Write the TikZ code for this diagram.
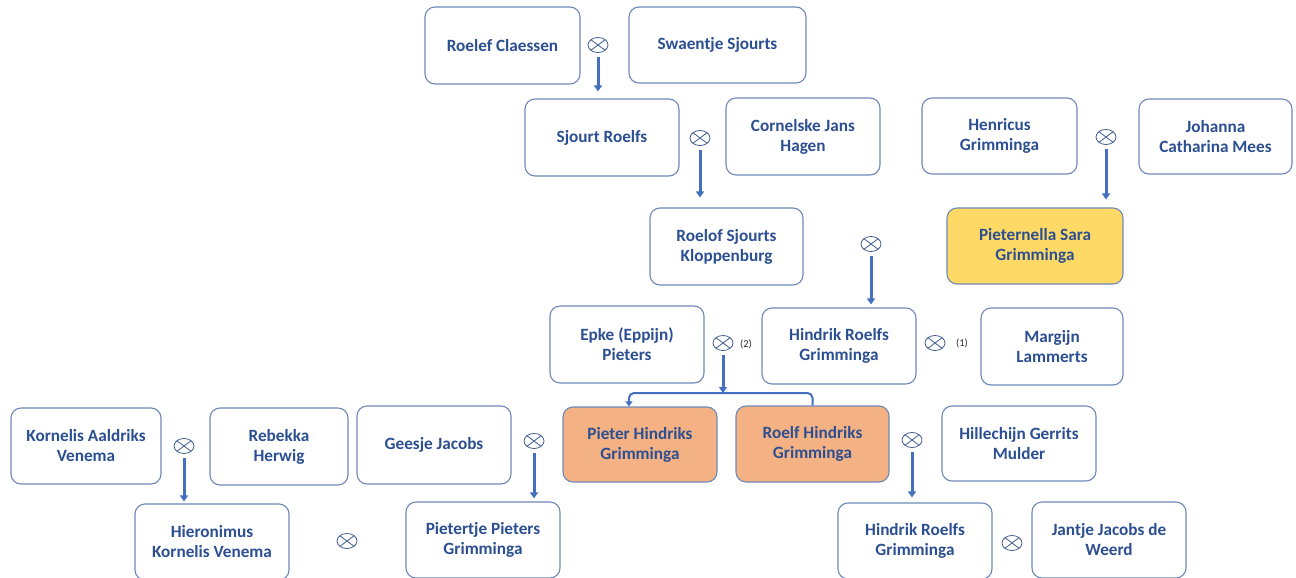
\documentclass[tikz,border=0pt]{standalone}
\usepackage{fontspec}
\setmainfont{Carlito}
\usetikzlibrary{arrows.meta,shapes.geometric}
\definecolor{txtblue}{HTML}{2B4F91}
\definecolor{bordblue}{HTML}{6F88B8}
\definecolor{arrblue}{HTML}{4470BE}
\definecolor{yell}{HTML}{FFD966}
\definecolor{orng}{HTML}{F4B183}
\definecolor{symc}{HTML}{3F5A8C}
\tikzset{
  pbox/.style={draw=bordblue, line width=1.1pt, rounded corners=10pt, fill=white,
    align=center, text=txtblue, inner sep=0pt,
    font=\fontsize{17.2}{20}\selectfont\bfseries,
    minimum width=154pt, minimum height=77pt},
  yellbox/.style={pbox, fill=yell},
  orbox/.style={pbox, fill=orng},
  msym/.style={ellipse, draw=symc, line width=0.8pt, minimum width=20pt, minimum height=15pt, inner sep=0pt,
    path picture={\draw[symc, line width=0.8pt] (path picture bounding box.north west) -- (path picture bounding box.south east)
      (path picture bounding box.north east) -- (path picture bounding box.south west);}},
  arr/.style={draw=arrblue, line width=3pt, -{Triangle[width=8pt,length=6pt]}, shorten <=4.5pt, shorten >=5pt},
  brk/.style={draw=arrblue, line width=2pt, rounded corners=5pt},
  numlab/.style={font=\fontsize{10.5}{12}\selectfont, text=black!85, inner sep=0pt}
}
\begin{document}
\begin{tikzpicture}[x=1pt,y=-1pt]
\useasboundingbox (0,0) rectangle (1296,578);
% row 1
\node[pbox, minimum width=155pt] (rc) at (502.5,45.5) {Roelef Claessen};
\node[pbox, minimum width=177pt, minimum height=76pt] (ss) at (717.5,45) {Swaentje Sjourts};
\node[msym] (m1) at (598,45) {};
% row 2
\node[pbox] (sr) at (602,137.5) {Sjourt Roelfs};
\node[pbox] (cj) at (803,136.5) {Cornelske Jans\\Hagen};
\node[pbox, minimum width=155pt, minimum height=76pt] (hg) at (999.5,136) {Henricus\\Grimminga};
\node[pbox, minimum width=153pt, minimum height=75pt] (jc) at (1215.5,136.5) {Johanna\\Catharina Mees};
\node[msym] (m2) at (700,138) {};
\node[msym] (m3) at (1106,137) {};
% row 3
\node[pbox, minimum width=153pt] (rs) at (726.5,246.5) {Roelof Sjourts\\Kloppenburg};
\node[yellbox, minimum width=176pt, minimum height=76pt] (ps) at (1035,246) {Pieternella Sara\\Grimminga};
\node[msym] (m4) at (871,244) {};
% row 4
\node[pbox] (ep) at (627,344.5) {Epke (Eppijn)\\Pieters};
\node[pbox, minimum height=76pt] (hr) at (839,346) {Hindrik Roelfs\\Grimminga};
\node[pbox, minimum width=142pt] (ml) at (1052,346.5) {Margijn\\Lammerts};
\node[msym] (m5) at (723,343) {};
\node[numlab] (l2) at (746,344) {(2)};
\node[msym] (m6) at (935,343) {};
\node[numlab] (l1) at (962,343) {(1)};
% row 5
\node[orbox, minimum height=75pt] (ph) at (640,444.5) {Pieter Hindriks\\Grimminga};
\node[orbox, minimum width=153pt, minimum height=76pt] (rh) at (812.5,444) {Roelf Hindriks\\Grimminga};
\node[pbox, minimum height=75pt] (hm) at (1019,443.5) {Hillechijn Gerrits\\Mulder};
\node[pbox, minimum width=150pt, minimum height=76pt] (kv) at (86,446) {Kornelis Aaldriks\\Venema};
\node[pbox, minimum width=138pt] (rb) at (279,446.5) {Rebekka\\Herwig};
\node[pbox, minimum height=78pt] (gj) at (434,445) {Geesje Jacobs};
\node[msym] (m7) at (912,440) {};
\node[msym] (m8) at (184,446) {};
\node[msym] (m9) at (534,441) {};
% row 6
\node[pbox, minimum height=76pt] (hk) at (212,542) {Hieronimus\\Kornelis Venema};
\node[pbox, minimum height=76pt] (pp) at (483,540) {Pietertje Pieters\\Grimminga};
\node[pbox, minimum height=76pt] (hb) at (915,541) {Hindrik Roelfs\\Grimminga};
\node[pbox, minimum height=76pt] (jj) at (1109,540) {Jantje Jacobs de\\Weerd};
\node[msym] (m10) at (347,541) {};
\node[msym] (m11) at (1012,543) {};
% arrows
\draw[arr, shorten >=7pt] (m1) -- (m1 |- sr.north);
\draw[arr, shorten >=10pt] (m2) -- (m2 |- rs.north);
\draw[arr, shorten >=8pt] (m3) -- (m3 |- ps.north);
\draw[arr, shorten >=3pt] (m4) -- (m4 |- hr.north);
\draw[arr, shorten >=5pt] (m7) -- (m7 |- hb.north);
\draw[arr, shorten >=2pt] (m8) -- (m8 |- hk.north);
\draw[arr, shorten >=3pt] (m9) -- (m9 |- pp.north);
% bracket
\coordinate (j) at (723,393);
\draw[arr, shorten >=0pt] (m5) -- (j);
\draw[brk, -{Triangle[width=7pt,length=5pt]}] (j) -| ([xshift=-11pt]ph.north);
\draw[brk] (j) -| (rh.north);
\end{tikzpicture}
\end{document}
